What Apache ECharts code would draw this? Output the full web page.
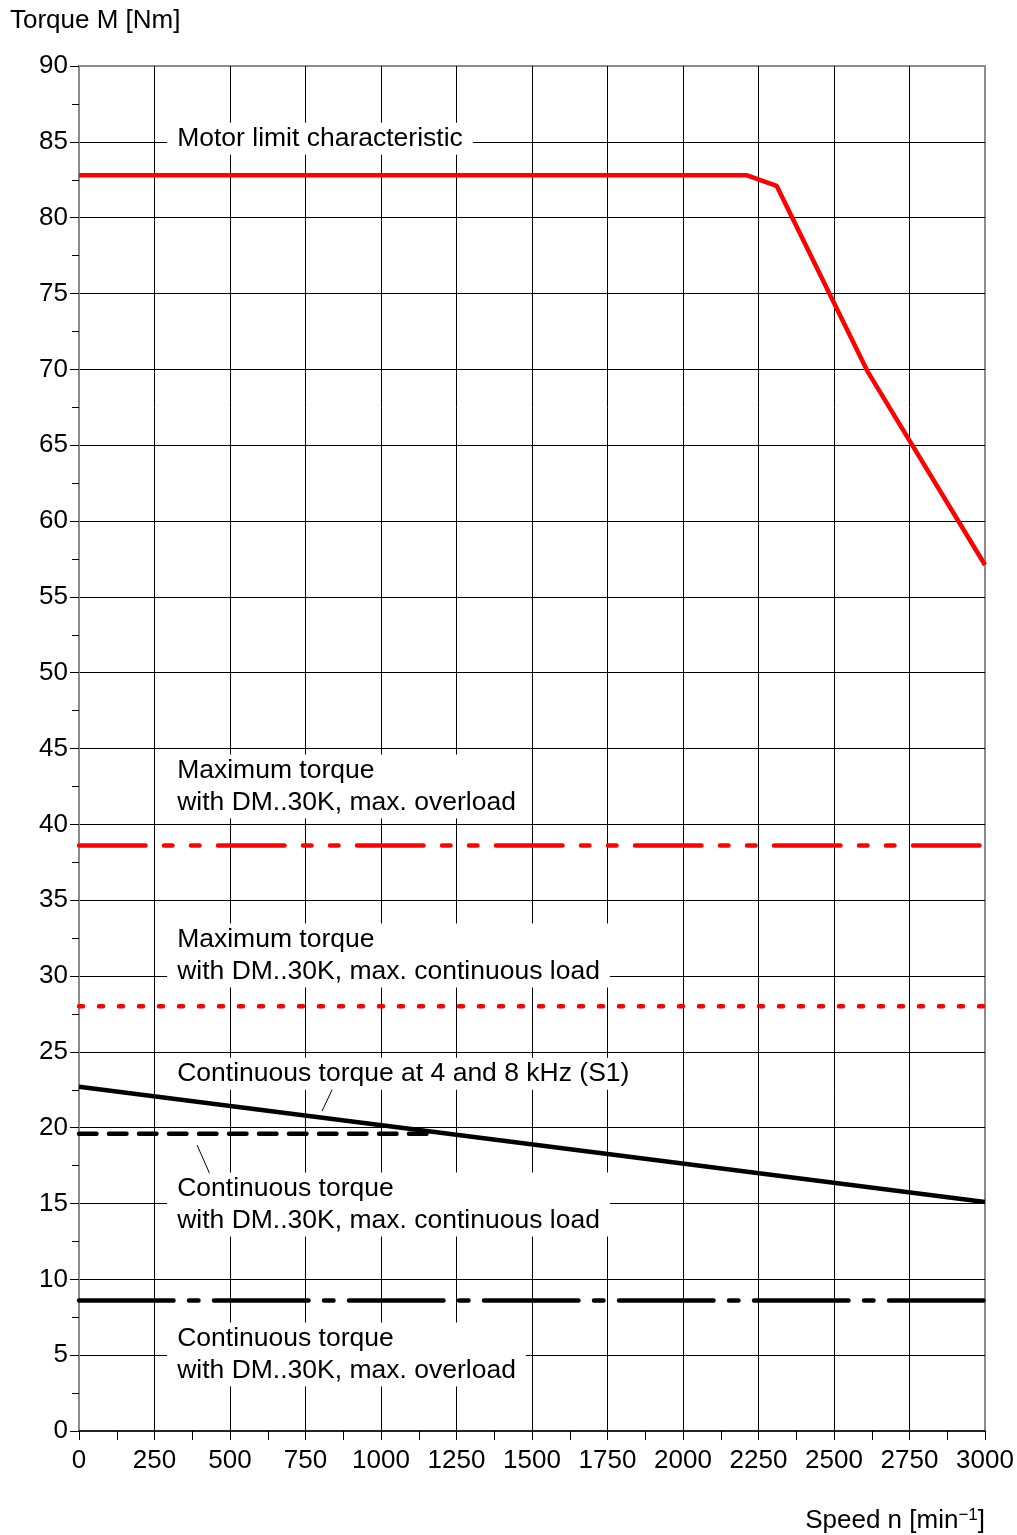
<!DOCTYPE html>
<html>
<head>
<meta charset="utf-8">
<script src="https://cdn.jsdelivr.net/npm/echarts@6/dist/echarts.min.js"></script>
<style>
html,body{margin:0;padding:0;background:#fff;}
#chart{width:1017px;height:1535px;}
</style>
</head>
<body>
<div id="chart"></div>
<script>
// ---- data ----
const xTicks = [0, 250, 500, 750, 1000, 1250, 1500, 1750, 2000, 2250, 2500, 2750, 3000];
const yTicks = [0, 5, 10, 15, 20, 25, 30, 35, 40, 45, 50, 55, 60, 65, 70, 75, 80, 85, 90];

const limitSpeed  = [0, 2210, 2310, 2610, 3000];
const limitTorque = [82.8, 82.8, 82.1, 69.9, 57.1];

const maxOverloadSpeed  = [0, 3000];
const maxOverloadTorque = [38.6, 38.6];

const maxContSpeed  = [0, 3000];
const maxContTorque = [28.0, 28.0];

const s1Speed  = [0, 3000];
const s1Torque = [22.7, 15.1];

const contLoadSpeed  = [0, 1165];
const contLoadTorque = [19.6, 19.6];

const contOverloadSpeed  = [0, 3000];
const contOverloadTorque = [8.6, 8.6];

const labelTexts = [
  'Motor limit characteristic',
  'Maximum torque\nwith DM..30K, max. overload',
  'Maximum torque\nwith DM..30K, max. continuous load',
  'Continuous torque at 4 and 8 kHz (S1)',
  'Continuous torque\nwith DM..30K, max. continuous load',
  'Continuous torque\nwith DM..30K, max. overload'
];
const labelX = [325, 325, 325, 325, 325, 325];
const labelY = [85.2, 42.5, 31.35, 23.55, 14.93, 5.04];

// leader lines [x1, y1, x2, y2] in data units
const leaders = [
  [805, 21.1, 838, 22.5],
  [391, 18.85, 432, 17.0]
];

// ---- chart ----
const FONT = '"Liberation Sans", Arial, Helvetica, sans-serif';
const chart = echarts.init(document.getElementById('chart'), null, {renderer: 'canvas'});

function pairs(xs, ys) { return xs.map((x, i) => [x, ys[i]]); }

function lineSeries(name, xs, ys, color, dash) {
  return {
    name: name,
    type: 'line',
    data: pairs(xs, ys),
    showSymbol: false,
    symbol: 'none',
    silent: true,
    z: 5,
    clip: true,
    lineStyle: {color: color, width: 4.5, type: dash || 'solid', cap: dash ? 'round' : 'butt', join: 'round'}
  };
}

const option = {
  backgroundColor: '#ffffff',
  animation: false,
  textStyle: {fontFamily: FONT},
  grid: {left: 79, right: 32, top: 66, bottom: 104, show: true, borderColor: '#8c8c8c', borderWidth: 2, backgroundColor: 'transparent'},
  xAxis: {
    type: 'value', min: 0, max: 3000, interval: 250,
    axisLine: {show: true, lineStyle: {color: '#000', width: 1.5}},
    axisTick: {show: true, inside: false, length: 9, lineStyle: {color: '#000', width: 1}},
    minorTick: {show: true, splitNumber: 2, length: 9, lineStyle: {color: '#000', width: 1}},
    splitLine: {show: true, showMinLine: false, showMaxLine: false, lineStyle: {color: '#000', width: 1}},
    axisLabel: {color: '#000', fontSize: 26, fontFamily: FONT, margin: 17,
      formatter: v => (xTicks.indexOf(v) >= 0 ? String(v) : '')}
  },
  yAxis: {
    type: 'value', min: 0, max: 90, interval: 5,
    axisLine: {show: true, lineStyle: {color: '#8c8c8c', width: 2}},
    axisTick: {show: true, inside: false, length: 9, lineStyle: {color: '#000', width: 1}},
    minorTick: {show: true, splitNumber: 2, length: 7, lineStyle: {color: '#000', width: 1}},
    splitLine: {show: true, showMinLine: false, showMaxLine: false, lineStyle: {color: '#000', width: 1}},
    axisLabel: {color: '#000', fontSize: 26, fontFamily: FONT, margin: 11,
      formatter: v => (yTicks.indexOf(v) >= 0 ? String(v) : '')}
  },
  series: [
    lineSeries('Motor limit characteristic', limitSpeed, limitTorque, '#ff0000'),
    lineSeries('Maximum torque, max. overload', maxOverloadSpeed, maxOverloadTorque, '#ff0000', [66.5, 18.5, 8.5, 18.5, 8.5, 18.5]),
    lineSeries('Maximum torque, max. continuous load', maxContSpeed, maxContTorque, '#ff0000', [4, 16]),
    lineSeries('Continuous torque S1', s1Speed, s1Torque, '#000000'),
    lineSeries('Continuous torque, max. continuous load', contLoadSpeed, contLoadTorque, '#000000', [17.5, 12.5]),
    lineSeries('Continuous torque, max. overload', contOverloadSpeed, contOverloadTorque, '#000000', [94.5, 15.5, 9.5, 15.5])
  ]
};
chart.setOption(option);

// annotations positioned in data coordinates
const graphics = [];
labelTexts.forEach((t, i) => {
  const p = chart.convertToPixel({gridIndex: 0}, [labelX[i], labelY[i]]);
  graphics.push({
    type: 'text', x: p[0] - 10, y: p[1], z: 3,
    style: {
      text: t, fill: '#000', fontSize: 26.5, fontFamily: FONT,
      lineHeight: 32, verticalAlign: 'middle', align: 'left',
      backgroundColor: '#ffffff', padding: [0, 10, 0, 10]
    }
  });
});
leaders.forEach(l => {
  const a = chart.convertToPixel({gridIndex: 0}, [l[0], l[1]]);
  const b = chart.convertToPixel({gridIndex: 0}, [l[2], l[3]]);
  graphics.push({type: 'line', z: 4, shape: {x1: a[0], y1: a[1], x2: b[0], y2: b[1]}, style: {stroke: '#000', lineWidth: 1}});
});
graphics.push({
  type: 'text', x: 10, y: 21, z: 10,
  style: {text: 'Torque M [Nm]', fill: '#000', fontSize: 26, fontFamily: FONT, verticalAlign: 'middle', align: 'left'}
});
graphics.push({
  type: 'text', x: 985, y: 1521, z: 10,
  style: {
    text: 'Speed n [min{sup|−1}]', fill: '#000', fontSize: 26, fontFamily: FONT,
    verticalAlign: 'middle', align: 'right',
    rich: {sup: {fontSize: 17, fontFamily: FONT, fill: '#000', verticalAlign: 'top', padding: [0, 0, 12, 0]}}
  }
});
chart.setOption({graphic: graphics});
</script>
</body>
</html>
